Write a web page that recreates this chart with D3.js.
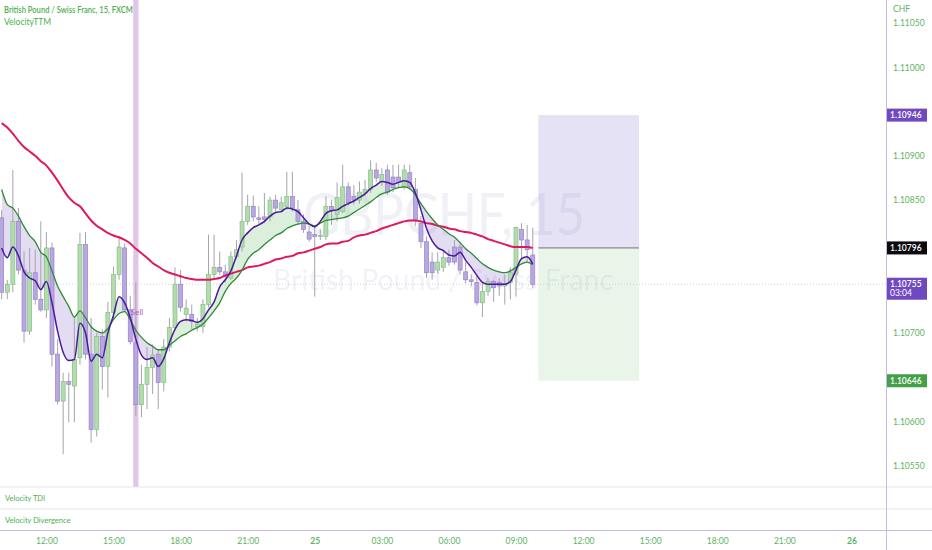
<!DOCTYPE html>
<html><head><meta charset="utf-8">
<script src="https://cdn.jsdelivr.net/npm/d3@7"></script>
<style>
body{margin:0;background:#fff;}
svg{display:block;font-family:Lato,"Open Sans",sans-serif;}
</style>
</head><body>
<svg id="chart" width="932" height="550"></svg>
<script>
// ---------- DATA ----------
const symbolTitle = "British Pound / Swiss Franc, 15, FXCM";
const indicatorName = "VelocityTTM";
const paneNames = ["Velocity TDI", "Velocity Divergence"];
const watermarkMain = "GBPCHF, 15";
const watermarkSub = "British Pound / Swiss Franc";
const currency = "CHF";
const firstBarUTC = Date.UTC(2020, 0, 24, 10, 0);
const barMinutes = 15;

const opens = [1.10830,1.10746,1.10755,1.10826,1.10771,1.10702,1.10768,1.10738,1.10726,1.10796,
1.10676,1.10623,1.10645,1.10640,1.10672,1.10800,1.10676,1.10591,1.10696,1.10662,
1.10723,1.10766,1.10796,1.10726,1.10689,1.10619,1.10642,1.10661,1.10676,1.10644,
1.10684,1.10706,1.10755,1.10721,1.10721,1.10707,1.10707,1.10732,1.10766,1.10774,
1.10769,1.10762,1.10786,1.10797,1.10826,1.10843,1.10830,1.10831,1.10831,1.10850,
1.10839,1.10843,1.10854,1.10839,1.10826,1.10814,1.10811,1.10809,1.10809,1.10843,
1.10834,1.10837,1.10865,1.10854,1.10850,1.10858,1.10862,1.10884,1.10871,1.10884,
1.10876,1.10876,1.10865,1.10881,1.10862,1.10824,1.10803,1.10780,1.10771,1.10774,
1.10785,1.10797,1.10797,1.10769,1.10760,1.10757,1.10734,1.10747,1.10758,1.10757,
1.10753,1.10757,1.10766,1.10817,1.10805,1.10788];
const highs = [1.10839,1.10760,1.10884,1.10841,1.10792,1.10796,1.10794,1.10826,1.10814,1.10802,
1.10693,1.10655,1.10655,1.10718,1.10813,1.10814,1.10717,1.10700,1.10704,1.10735,
1.10775,1.10809,1.10801,1.10742,1.10757,1.10664,1.10684,1.10687,1.10681,1.10693,
1.10717,1.10774,1.10771,1.10738,1.10732,1.10717,1.10738,1.10811,1.10811,1.10792,
1.10777,1.10792,1.10805,1.10881,1.10856,1.10855,1.10843,1.10858,1.10854,1.10856,
1.10854,1.10882,1.10882,1.10850,1.10834,1.10821,1.10820,1.10817,1.10854,1.10850,
1.10870,1.10890,1.10870,1.10867,1.10871,1.10873,1.10895,1.10892,1.10886,1.10890,
1.10890,1.10890,1.10890,1.10890,1.10875,1.10832,1.10809,1.10791,1.10791,1.10794,
1.10794,1.10805,1.10803,1.10780,1.10766,1.10764,1.10757,1.10762,1.10760,1.10762,
1.10766,1.10774,1.10820,1.10824,1.10822,1.10819];
const lows = [1.10738,1.10738,1.10746,1.10766,1.10689,1.10698,1.10732,1.10724,1.10717,1.10662,
1.10619,1.10563,1.10599,1.10599,1.10664,1.10670,1.10576,1.10583,1.10636,1.10627,
1.10715,1.10760,1.10724,1.10687,1.10606,1.10605,1.10614,1.10631,1.10614,1.10634,
1.10679,1.10704,1.10724,1.10713,1.10704,1.10702,1.10700,1.10729,1.10762,1.10766,
1.10757,1.10760,1.10783,1.10792,1.10822,1.10826,1.10822,1.10824,1.10826,1.10837,
1.10836,1.10839,1.10837,1.10822,1.10813,1.10803,1.10741,1.10805,1.10805,1.10822,
1.10826,1.10835,1.10844,1.10845,1.10846,1.10855,1.10858,1.10871,1.10866,1.10856,
1.10859,1.10864,1.10862,1.10862,1.10821,1.10796,1.10762,1.10760,1.10767,1.10769,
1.10776,1.10777,1.10766,1.10756,1.10753,1.10731,1.10718,1.10742,1.10735,1.10742,
1.10732,1.10738,1.10741,1.10783,1.10780,1.10751];
const closes = [1.10746,1.10755,1.10826,1.10771,1.10702,1.10768,1.10738,1.10726,1.10796,1.10676,
1.10623,1.10645,1.10642,1.10670,1.10800,1.10676,1.10591,1.10696,1.10662,1.10723,
1.10766,1.10797,1.10726,1.10690,1.10619,1.10642,1.10661,1.10675,1.10644,1.10684,
1.10706,1.10755,1.10729,1.10728,1.10713,1.10710,1.10732,1.10766,1.10774,1.10769,
1.10764,1.10786,1.10794,1.10826,1.10843,1.10831,1.10828,1.10828,1.10850,1.10841,
1.10847,1.10854,1.10841,1.10826,1.10817,1.10806,1.10809,1.10810,1.10843,1.10838,
1.10853,1.10865,1.10847,1.10850,1.10859,1.10862,1.10884,1.10875,1.10879,1.10859,
1.10864,1.10870,1.10884,1.10865,1.10828,1.10803,1.10768,1.10768,1.10780,1.10785,
1.10780,1.10780,1.10771,1.10760,1.10758,1.10734,1.10747,1.10758,1.10751,1.10753,
1.10756,1.10768,1.10819,1.10805,1.10794,1.10755];

const emaRed = [1.10937,1.10932,1.10925,1.10917,1.10910,1.10905,1.10900,1.10894,1.10889,1.10881,
1.10872,1.10862,1.10853,1.10847,1.10843,1.10835,1.10827,1.10821,1.10817,1.10813,
1.10810,1.10808,1.10805,1.10801,1.10795,1.10790,1.10785,1.10779,1.10775,1.10771,
1.10768,1.10766,1.10764,1.10762,1.10761,1.10760,1.10760,1.10760,1.10761,1.10762,
1.10765,1.10767,1.10769,1.10771,1.10774,1.10775,1.10776,1.10778,1.10780,1.10783,
1.10784,1.10786,1.10787,1.10790,1.10791,1.10793,1.10795,1.10797,1.10800,1.10801,
1.10801,1.10803,1.10804,1.10808,1.10810,1.10811,1.10813,1.10815,1.10818,1.10820,
1.10822,1.10824,1.10826,1.10827,1.10827,1.10826,1.10824,1.10823,1.10821,1.10820,
1.10818,1.10817,1.10815,1.10814,1.10813,1.10811,1.10809,1.10806,1.10804,1.10802,
1.10800,1.10798,1.10797,1.10797,1.10797,1.10796];
const slowGreen = [1.10862,1.10845,1.10841,1.10832,1.10820,1.10810,1.10803,1.10791,1.10786,1.10770,
1.10753,1.10741,1.10730,1.10718,1.10725,1.10717,1.10707,1.10702,1.10700,1.10705,
1.10715,1.10722,1.10724,1.10715,1.10703,1.10695,1.10689,1.10685,1.10681,1.10681,
1.10686,1.10691,1.10696,1.10699,1.10703,1.10706,1.10710,1.10717,1.10725,1.10734,
1.10747,1.10756,1.10762,1.10771,1.10783,1.10790,1.10794,1.10800,1.10805,1.10810,
1.10813,1.10818,1.10821,1.10823,1.10824,1.10823,1.10821,1.10824,1.10827,1.10828,
1.10829,1.10830,1.10832,1.10836,1.10840,1.10844,1.10848,1.10853,1.10857,1.10859,
1.10862,1.10864,1.10865,1.10863,1.10856,1.10846,1.10837,1.10829,1.10822,1.10817,
1.10812,1.10808,1.10802,1.10795,1.10790,1.10784,1.10778,1.10774,1.10771,1.10769,
1.10768,1.10770,1.10774,1.10778,1.10780,1.10777];
const fastPurple = [1.10796,1.10785,1.10797,1.10787,1.10769,1.10762,1.10759,1.10749,1.10758,1.10734,
1.10702,1.10678,1.10669,1.10670,1.10711,1.10700,1.10668,1.10676,1.10672,1.10700,
1.10720,1.10741,1.10734,1.10717,1.10693,1.10675,1.10670,1.10672,1.10662,1.10671,
1.10689,1.10704,1.10713,1.10715,1.10714,1.10712,1.10716,1.10726,1.10735,1.10752,
1.10760,1.10770,1.10787,1.10805,1.10813,1.10819,1.10822,1.10826,1.10832,1.10836,
1.10837,1.10841,1.10840,1.10837,1.10830,1.10823,1.10820,1.10826,1.10835,1.10838,
1.10839,1.10843,1.10846,1.10849,1.10853,1.10857,1.10863,1.10867,1.10871,1.10870,
1.10868,1.10870,1.10872,1.10870,1.10858,1.10839,1.10818,1.10804,1.10796,1.10793,
1.10788,1.10787,1.10791,1.10782,1.10774,1.10765,1.10757,1.10755,1.10755,1.10755,
1.10755,1.10758,1.10771,1.10784,1.10786,1.10778];

const priceTicks = [1.1055,1.1060,1.1070,1.1085,1.1090,1.1100,1.1105];
const timeTickLabels = ["12:00","15:00","18:00","21:00","25","03:00","06:00","09:00","12:00","15:00","18:00","21:00","26"];
const positionEntry = 1.10796, positionTarget = 1.10946, positionStop = 1.10646;
const positionStartUTC = Date.UTC(2020, 0, 25, 10, 0), positionEndUTC = Date.UTC(2020, 0, 25, 14, 30);
const lastPrice = 1.10755, countdown = "03:04";
const signalBar = 24, signalLabel = "Sell";

// ---------- LAYOUT ----------
const W = 932, H = 550, plotRight = 886, mainBottom = 487, pane2Bottom = 509, axisTop = 530;
const green = "#4caf50", axisGreen = "#5cb45f";
const svg = d3.select("#chart");
const times = opens.map((_, i) => new Date(firstBarUTC + i * barMinutes * 60000));
const x = d3.scaleUtc()
  .domain([new Date(Date.UTC(2020,0,24,12)), new Date(Date.UTC(2020,0,26,0))])
  .range([46.4, 851.4]);
const y = d3.scaleLinear().domain([1.10526, 1.11076]).range([mainBottom, 0]);

svg.append("rect").attr("width", W).attr("height", H).attr("fill", "#fff");
const defs = svg.append("defs");
defs.append("clipPath").attr("id","mainClip").append("rect")
  .attr("x",0).attr("y",0).attr("width",plotRight).attr("height",mainBottom);

const main = svg.append("g").attr("clip-path","url(#mainClip)");

// position tool
const px0 = x(new Date(positionStartUTC)), px1 = x(new Date(positionEndUTC));
main.append("rect").attr("x", px0).attr("width", px1-px0)
  .attr("y", y(positionTarget)).attr("height", y(positionEntry)-y(positionTarget))
  .attr("fill", "#e6e2f5");
main.append("rect").attr("x", px0).attr("width", px1-px0)
  .attr("y", y(positionEntry)).attr("height", y(positionStop)-y(positionEntry))
  .attr("fill", "#e9f5e8");

// watermark (translucent, over the position boxes)
main.append("text").attr("x", 444).attr("y", 235).attr("text-anchor","middle")
  .attr("font-size", 58).attr("fill", "rgba(110,110,175,0.10)").attr("textLength", 282).attr("lengthAdjust","spacingAndGlyphs")
  .text(watermarkMain);
main.append("text").attr("x", 443).attr("y", 290).attr("text-anchor","middle")
  .attr("font-size", 29).attr("fill", "rgba(110,110,175,0.10)").attr("textLength", 340).attr("lengthAdjust","spacingAndGlyphs")
  .text(watermarkSub);

main.append("line").attr("x1", px0).attr("x2", px1).attr("y1", y(positionEntry)).attr("y2", y(positionEntry))
  .attr("stroke", "#6f7380").attr("stroke-width", 1);

// signal band
main.append("rect").attr("x", x(times[signalBar]) - 2.6).attr("width", 5.2)
  .attr("y", 0).attr("height", mainBottom).attr("fill", "#e2c6ea");

// last price line
main.append("line").attr("x1", 0).attr("x2", plotRight).attr("y1", y(lastPrice)).attr("y2", y(lastPrice))
  .attr("stroke", "#c8c9d0").attr("stroke-width", 0.8).attr("stroke-dasharray", "1,2");

// fill between fast and slow
const idx = d3.range(opens.length);
const xi = i => x(times[i]);
const bandArea = d3.area().x(xi).y0(i => y(slowGreen[i])).y1(i => y(fastPurple[i]));
defs.append("clipPath").attr("id","aboveSlow").append("path")
  .attr("d", d3.area().x(xi).y0(0).y1(i => y(slowGreen[i]))(idx));
defs.append("clipPath").attr("id","belowSlow").append("path")
  .attr("d", d3.area().x(xi).y0(mainBottom).y1(i => y(slowGreen[i]))(idx));
main.append("path").attr("d", bandArea(idx)).attr("fill", "rgba(129,199,132,0.28)").attr("clip-path","url(#aboveSlow)");
main.append("path").attr("d", bandArea(idx)).attr("fill", "rgba(149,117,205,0.25)").attr("clip-path","url(#belowSlow)");

// candles
const candles = main.append("g");
idx.forEach(i => {
  const up = closes[i] >= opens[i];
  const cxp = xi(i);
  candles.append("line").attr("x1", cxp).attr("x2", cxp)
    .attr("y1", y(highs[i])).attr("y2", y(lows[i]))
    .attr("stroke", "#a4a4ac").attr("stroke-width", 1);
  const top = y(Math.max(opens[i], closes[i])), bot = y(Math.min(opens[i], closes[i]));
  candles.append("rect").attr("x", cxp - 2).attr("width", 4)
    .attr("y", top).attr("height", Math.max(1, bot - top))
    .attr("fill", up ? "#b2dcae" : "#b8a8de")
    .attr("stroke", up ? "#84c081" : "#9582cc").attr("stroke-width", 0.7);
});

// lines
const lineGen = arr => d3.line().x(xi).y(i => y(arr[i])).curve(d3.curveMonotoneX)(idx);
main.append("path").attr("d", lineGen(emaRed)).attr("fill","none").attr("stroke","#e0185f").attr("stroke-width",2);
main.append("path").attr("d", lineGen(slowGreen)).attr("fill","none").attr("stroke","#2e8b35").attr("stroke-width",1.3);
main.append("path").attr("d", lineGen(fastPurple)).attr("fill","none").attr("stroke","#4a1a9c").attr("stroke-width",1.5);

// sell label
main.append("text").attr("x", xi(signalBar) - 5).attr("y", 315)
  .attr("font-size", 8).attr("fill", "#b05cc4").text(signalLabel);

// legend
svg.append("text").attr("x", 4).attr("y", 13).attr("font-size", 8.5).attr("font-weight", 600)
  .attr("fill", green).attr("textLength", 129).attr("lengthAdjust","spacingAndGlyphs").text(symbolTitle);
svg.append("text").attr("x", 4).attr("y", 25).attr("font-size", 8.5)
  .attr("fill", green).text(indicatorName);

// panes
[mainBottom, pane2Bottom].forEach(py => svg.append("line").attr("x1",0).attr("x2",W)
  .attr("y1",py).attr("y2",py).attr("stroke","#e4e5ea").attr("stroke-width",1));
svg.append("text").attr("x",5).attr("y",501).attr("font-size",7.5).attr("fill",green).text(paneNames[0]);
svg.append("text").attr("x",5).attr("y",523).attr("font-size",7.5).attr("fill",green).text(paneNames[1]);

svg.append("line").attr("x1",0).attr("x2",W).attr("y1",axisTop+0.5).attr("y2",axisTop+0.5)
  .attr("stroke","#c5bce6").attr("stroke-width",1);
svg.append("line").attr("x1",plotRight+0.5).attr("x2",plotRight+0.5).attr("y1",0).attr("y2",H)
  .attr("stroke","#c5bce6").attr("stroke-width",1);

// time axis
const tickDates = d3.utcHour.every(3).range(new Date(Date.UTC(2020,0,24,12)), new Date(Date.UTC(2020,0,26,1)));
const xAxisG = svg.append("g").attr("transform", `translate(0,${axisTop})`)
  .call(d3.axisBottom(x).tickValues(tickDates).tickSize(0).tickFormat((d,i) => timeTickLabels[i]));
xAxisG.select(".domain").remove();
xAxisG.selectAll("text").attr("y", 14).attr("dy", 0)
  .attr("font-family", "Lato, 'Open Sans', sans-serif").attr("font-size", 8.5).attr("fill", axisGreen)
  .attr("font-weight", d => d.getUTCHours() === 0 ? "bold" : "normal");

// price axis
const yAxisG = svg.append("g").attr("transform", `translate(${plotRight},0)`)
  .call(d3.axisRight(y).tickValues(priceTicks).tickSize(0).tickPadding(7).tickFormat(d3.format(".5f")));
yAxisG.select(".domain").remove();
yAxisG.selectAll("text").attr("font-family", "Lato, 'Open Sans', sans-serif").attr("font-size", 8.5).attr("fill", axisGreen);
svg.append("text").attr("x", plotRight + 7).attr("y", 12).attr("font-size", 8.5).attr("fill", axisGreen).text(currency);

// price badges
function badge(price, bg, lines) {
  const h = lines.length === 1 ? 13 : 22;
  const cyp = y(price);
  const top = lines.length === 1 ? cyp - h/2 : cyp - 6.5;
  svg.append("rect").attr("x", plotRight + 1).attr("y", top).attr("width", 40).attr("height", h).attr("fill", bg);
  lines.forEach((t, k) => svg.append("text").attr("x", plotRight + 4).attr("y", top + 9.5 + k*9)
    .attr("font-size", 8.5).attr("font-weight", k === 0 ? 600 : 400).attr("fill", "#fff").text(t));
}
badge(positionTarget, "#7048c0", [d3.format(".5f")(positionTarget)]);
badge(positionEntry, "#0b0b0f", [d3.format(".5f")(positionEntry)]);
badge(lastPrice, "#7048c0", [d3.format(".5f")(lastPrice), countdown]);
badge(positionStop, "#43a047", [d3.format(".5f")(positionStop)]);
</script>
</body></html>
